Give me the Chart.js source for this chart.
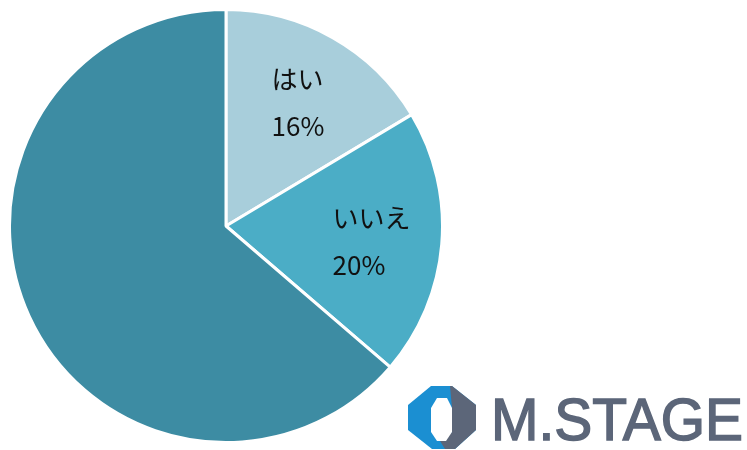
<!DOCTYPE html>
<html>
<head>
<meta charset="utf-8">
<script src="https://cdn.jsdelivr.net/npm/chart.js@4/dist/chart.umd.min.js"></script>
<style>
  html, body { margin: 0; padding: 0; background: #fff; overflow: hidden; }
  body { width: 747px; height: 450px; position: relative; }
  #wrap { position: absolute; left: 8px; top: 8px; width: 436px; height: 436px; }
  #logo { position: absolute; left: 400px; top: 378px; }
</style>
</head>
<body>
<div id="wrap"><canvas id="chart-pie"></canvas></div>

<svg id="logo" width="347" height="72" viewBox="400 378 347 72">
  <polygon points="431,386 452,386 476,405 476,430 455,449 432,449 408,430 408,405" fill="#1b8fd2"/>
  <polygon points="450,386 452,386 476,405 476,430 455,449 445,449 440,441 452,432 452,408" fill="#5c6679"/>
  <polygon points="437,398 447,398 452,408 452,432 446,441 437,441 431,432 431,408" fill="#fff"/>
  <text x="491" y="440" textLength="252" lengthAdjust="spacingAndGlyphs"
        font-family="Liberation Sans, Arial, sans-serif" font-size="60" fill="#5c6679"
        stroke="#5c6679" stroke-width="1.5">M.STAGE</text>
</svg>

<script>
const labels = ["はい", "いいえ", ""];
const values = [16.4, 19.9, 63.7];
const pctText = ["16%", "20%", ""];
const colors = ["#a8cedb", "#4badc6", "#3d8ca3"];

const pie = document.getElementById("chart-pie");

// labels inside slices, two lines, left aligned in a centered block
const sliceLabels = {
  id: "sliceLabels",
  afterDatasetsDraw(chart) {
    const ctx = chart.ctx;
    const arcs = chart.getDatasetMeta(0).data;
    ctx.save();
    ctx.font = '26px "Noto Sans CJK JP"';
    ctx.fillStyle = "#111";
    ctx.textAlign = "left";
    ctx.textBaseline = "middle";
    arcs.forEach((arc, i) => {
      if (!labels[i]) return;
      const p = arc.getProps(["x", "y", "startAngle", "endAngle", "outerRadius"], true);
      const mid = (p.startAngle + p.endAngle) / 2;
      const r = p.outerRadius * 0.675;
      const cx = p.x + Math.cos(mid) * r;
      const cy = p.y + Math.sin(mid) * r;
      const w = Math.max(ctx.measureText(labels[i]).width, ctx.measureText(pctText[i]).width);
      ctx.fillText(labels[i], cx - w / 2, cy - 20);
      ctx.fillText(pctText[i], cx - w / 2, cy + 27);
    });
    ctx.restore();
  }
};

new Chart(pie, {
  type: "pie",
  data: {
    labels: labels,
    datasets: [
      {
        data: values,
        backgroundColor: colors,
        borderColor: "#ffffff",
        borderWidth: 3,
      },
    ],
  },
  options: {
    responsive: true,
    maintainAspectRatio: false,
    animation: false,
    layout: { padding: 0 },
    plugins: {
      legend: { display: false },
      tooltip: { enabled: false },
    },
  },
  plugins: [sliceLabels],
});
</script>
</body>
</html>
